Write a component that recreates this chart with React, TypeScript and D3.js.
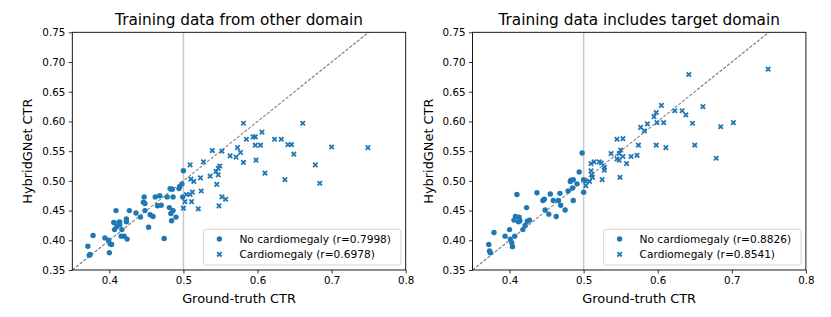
import React, { useRef, useEffect } from 'react';
import * as d3 from 'd3';

type Pt = [number, number];

// left panel: training data from other domain
const otherNoCardio: Pt[] = [
  [0.371, 0.390], [0.373, 0.375], [0.374, 0.376], [0.378, 0.408], [0.394, 0.404],
  [0.399, 0.400], [0.401, 0.394], [0.403, 0.393], [0.400, 0.379], [0.406, 0.430],
  [0.407, 0.418], [0.409, 0.450], [0.413, 0.430], [0.414, 0.426], [0.417, 0.418],
  [0.416, 0.407], [0.420, 0.407], [0.423, 0.436], [0.423, 0.431], [0.424, 0.402],
  [0.427, 0.450], [0.436, 0.446], [0.442, 0.439], [0.446, 0.464], [0.447, 0.473],
  [0.448, 0.450], [0.453, 0.422], [0.455, 0.443], [0.459, 0.440], [0.462, 0.473],
  [0.465, 0.458], [0.468, 0.475], [0.470, 0.459], [0.474, 0.403], [0.478, 0.473],
  [0.481, 0.455], [0.482, 0.487], [0.484, 0.433], [0.486, 0.473], [0.483, 0.445],
  [0.486, 0.450], [0.490, 0.439], [0.494, 0.487], [0.495, 0.490], [0.498, 0.495],
  [0.499, 0.473], [0.500, 0.517], [0.485, 0.486], [0.410, 0.423], [0.414, 0.431],
  [0.448, 0.462],
];
const otherCardio: Pt[] = [
  [0.581, 0.597], [0.661, 0.597], [0.585, 0.570], [0.594, 0.574], [0.597, 0.574],
  [0.606, 0.582], [0.623, 0.570], [0.632, 0.570], [0.597, 0.560], [0.604, 0.560],
  [0.641, 0.561], [0.646, 0.561], [0.649, 0.545], [0.700, 0.557], [0.749, 0.556],
  [0.539, 0.551], [0.552, 0.550], [0.563, 0.542], [0.571, 0.540], [0.573, 0.556],
  [0.577, 0.548], [0.581, 0.531], [0.598, 0.535], [0.610, 0.513], [0.637, 0.502],
  [0.678, 0.527], [0.684, 0.496], [0.509, 0.527], [0.527, 0.532], [0.549, 0.525],
  [0.547, 0.521], [0.544, 0.516], [0.547, 0.510], [0.536, 0.508], [0.523, 0.505],
  [0.510, 0.503], [0.514, 0.499], [0.545, 0.494], [0.524, 0.483], [0.512, 0.481],
  [0.504, 0.477], [0.509, 0.477], [0.502, 0.465], [0.511, 0.465], [0.500, 0.454],
  [0.520, 0.453], [0.552, 0.473], [0.557, 0.469], [0.548, 0.458],
];

// right panel: training data includes target domain
const targetNoCardio: Pt[] = [
  [0.372, 0.393], [0.373, 0.382], [0.374, 0.379], [0.379, 0.413], [0.394, 0.407],
  [0.400, 0.418], [0.401, 0.402], [0.403, 0.396], [0.404, 0.389], [0.407, 0.407],
  [0.410, 0.477], [0.406, 0.434], [0.408, 0.440], [0.413, 0.439], [0.414, 0.433],
  [0.412, 0.431], [0.418, 0.418], [0.421, 0.425], [0.424, 0.432], [0.427, 0.434],
  [0.423, 0.455], [0.437, 0.480], [0.445, 0.467], [0.447, 0.469], [0.448, 0.451],
  [0.453, 0.444], [0.455, 0.478], [0.459, 0.467], [0.463, 0.440], [0.466, 0.467],
  [0.468, 0.479], [0.469, 0.459], [0.475, 0.451], [0.479, 0.483], [0.482, 0.499],
  [0.483, 0.501], [0.485, 0.488], [0.486, 0.467], [0.486, 0.502], [0.491, 0.495],
  [0.494, 0.515], [0.498, 0.547], [0.500, 0.502], [0.500, 0.481],
];
const targetCardio: Pt[] = [
  [0.642, 0.679], [0.749, 0.688], [0.605, 0.627], [0.598, 0.615], [0.595, 0.608],
  [0.623, 0.618], [0.633, 0.618], [0.638, 0.611], [0.661, 0.625], [0.647, 0.597],
  [0.685, 0.591], [0.702, 0.598], [0.599, 0.598], [0.608, 0.598], [0.586, 0.596],
  [0.577, 0.590], [0.582, 0.584], [0.598, 0.560], [0.611, 0.556], [0.650, 0.560],
  [0.679, 0.538], [0.545, 0.570], [0.553, 0.571], [0.574, 0.560], [0.537, 0.546],
  [0.550, 0.552], [0.548, 0.546], [0.553, 0.541], [0.545, 0.537], [0.548, 0.535],
  [0.564, 0.541], [0.572, 0.543], [0.558, 0.529], [0.549, 0.506], [0.525, 0.502],
  [0.528, 0.523], [0.510, 0.529], [0.514, 0.532], [0.521, 0.532], [0.524, 0.530],
  [0.510, 0.517], [0.511, 0.510], [0.512, 0.506], [0.508, 0.499], [0.503, 0.499],
  [0.503, 0.492], [0.528, 0.518],
];

const titles = ['Training data from other domain', 'Training data includes target domain'];
const legendLabels = [
  ['No cardiomegaly (r=0.7998)', 'Cardiomegaly (r=0.6978)'],
  ['No cardiomegaly (r=0.8826)', 'Cardiomegaly (r=0.8541)'],
];
const xTicks = [0.4, 0.5, 0.6, 0.7, 0.8];
const yTicks = [0.35, 0.4, 0.45, 0.5, 0.55, 0.6, 0.65, 0.7, 0.75];

const W = 831;
const H = 317;
const BLUE = '#1f77b4';
const FONT = 'DejaVu Sans, sans-serif';

export default function App() {
  const ref = useRef<SVGSVGElement>(null);

  useEffect(() => {
    const svg = d3.select(ref.current);
    svg.selectAll('*').remove();

    const panels = [
      { left: 72.3, circles: otherNoCardio, crosses: otherCardio },
      { left: 472.5, circles: targetNoCardio, crosses: targetCardio },
    ];
    const pw = 333.4;
    const top = 32.3;
    const bottom = 270;

    panels.forEach((p, i) => {
      const x = d3.scaleLinear().domain([0.35, 0.8]).range([p.left, p.left + pw]);
      const y = d3.scaleLinear().domain([0.35, 0.75]).range([bottom, top]);
      const g = svg.append('g');
      const clipId = `clip${i}`;
      g.append('clipPath').attr('id', clipId)
        .append('rect').attr('x', p.left).attr('y', top)
        .attr('width', pw).attr('height', bottom - top);

      // vertical reference at 0.5
      g.append('line')
        .attr('x1', x(0.5)).attr('x2', x(0.5))
        .attr('y1', top).attr('y2', bottom)
        .attr('stroke', '#c8c8c8').attr('stroke-width', 1.5);

      // identity line
      g.append('line')
        .attr('clip-path', `url(#${clipId})`)
        .attr('x1', x(0.35)).attr('y1', y(0.35))
        .attr('x2', x(0.8)).attr('y2', y(0.8))
        .attr('stroke', '#7f7f7f').attr('stroke-width', 1.1)
        .attr('stroke-dasharray', '3.2,1.6');

      // no cardiomegaly
      g.append('g').selectAll('circle').data(p.circles).join('circle')
        .attr('cx', d => x(d[0])).attr('cy', d => y(d[1]))
        .attr('r', 2.7).attr('fill', BLUE);

      // cardiomegaly
      const s = 2.2;
      g.append('g').selectAll('path').data(p.crosses).join('path')
        .attr('d', d => {
          const cx = x(d[0]), cy = y(d[1]);
          return `M${cx - s},${cy - s}L${cx + s},${cy + s}M${cx - s},${cy + s}L${cx + s},${cy - s}`;
        })
        .attr('stroke', BLUE).attr('stroke-width', 1.8).attr('fill', 'none');

      // axes
      const xa = g.append('g').attr('transform', `translate(0,${bottom})`)
        .call(d3.axisBottom(x).tickValues(xTicks).tickFormat(d3.format('.1f')).tickSizeOuter(0).tickSize(3.5).tickPadding(3.5));
      const ya = g.append('g').attr('transform', `translate(${p.left},0)`)
        .call(d3.axisLeft(y).tickValues(yTicks).tickFormat(d3.format('.2f')).tickSizeOuter(0).tickSize(3.5).tickPadding(3.5));
      [xa, ya].forEach(a => {
        a.select('.domain').remove();
        a.selectAll('line').attr('stroke', '#000').attr('stroke-width', 0.8);
        a.selectAll('text').attr('font-family', FONT).attr('font-size', 10.3).attr('fill', '#000');
      });

      // frame
      g.append('rect')
        .attr('x', p.left).attr('y', top).attr('width', pw).attr('height', bottom - top)
        .attr('fill', 'none').attr('stroke', '#000').attr('stroke-width', 0.9);

      // labels
      g.append('text')
        .attr('x', p.left + pw / 2).attr('y', 25)
        .attr('text-anchor', 'middle').attr('font-family', FONT).attr('font-size', 15.3)
        .text(titles[i]);
      g.append('text')
        .attr('x', p.left + pw / 2).attr('y', 303)
        .attr('text-anchor', 'middle').attr('font-family', FONT).attr('font-size', 12.9)
        .text('Ground-truth CTR');
      g.append('text')
        .attr('transform', `translate(${p.left - 40},${(top + bottom) / 2}) rotate(-90)`)
        .attr('text-anchor', 'middle').attr('font-family', FONT).attr('font-size', 12.9)
        .text('HybridGNet CTR');

      // legend
      const lw = 197.5;
      const lx = p.left + pw - 4.8 - lw;
      const ly = 229.3;
      g.append('rect')
        .attr('x', lx).attr('y', ly).attr('width', lw).attr('height', 35.7)
        .attr('rx', 2.5).attr('fill', '#fff').attr('fill-opacity', 0.8)
        .attr('stroke', '#cccccc').attr('stroke-width', 0.8);
      const rows = [ly + 9.7, ly + 25];
      g.append('circle').attr('cx', lx + 16).attr('cy', rows[0]).attr('r', 2.7).attr('fill', BLUE);
      g.append('path')
        .attr('d', `M${lx + 16 - s},${rows[1] - s}L${lx + 16 + s},${rows[1] + s}M${lx + 16 - s},${rows[1] + s}L${lx + 16 + s},${rows[1] - s}`)
        .attr('stroke', BLUE).attr('stroke-width', 1.8);
      legendLabels[i].forEach((t, k) => {
        g.append('text')
          .attr('x', lx + 36).attr('y', rows[k] + 3.8)
          .attr('font-family', FONT).attr('font-size', 10.6)
          .text(t);
      });
    });
  }, []);

  return (
    <svg ref={ref} width={W} height={H}
      style={{ position: 'absolute', left: 0, top: 0, background: '#fff' }} />
  );
}
